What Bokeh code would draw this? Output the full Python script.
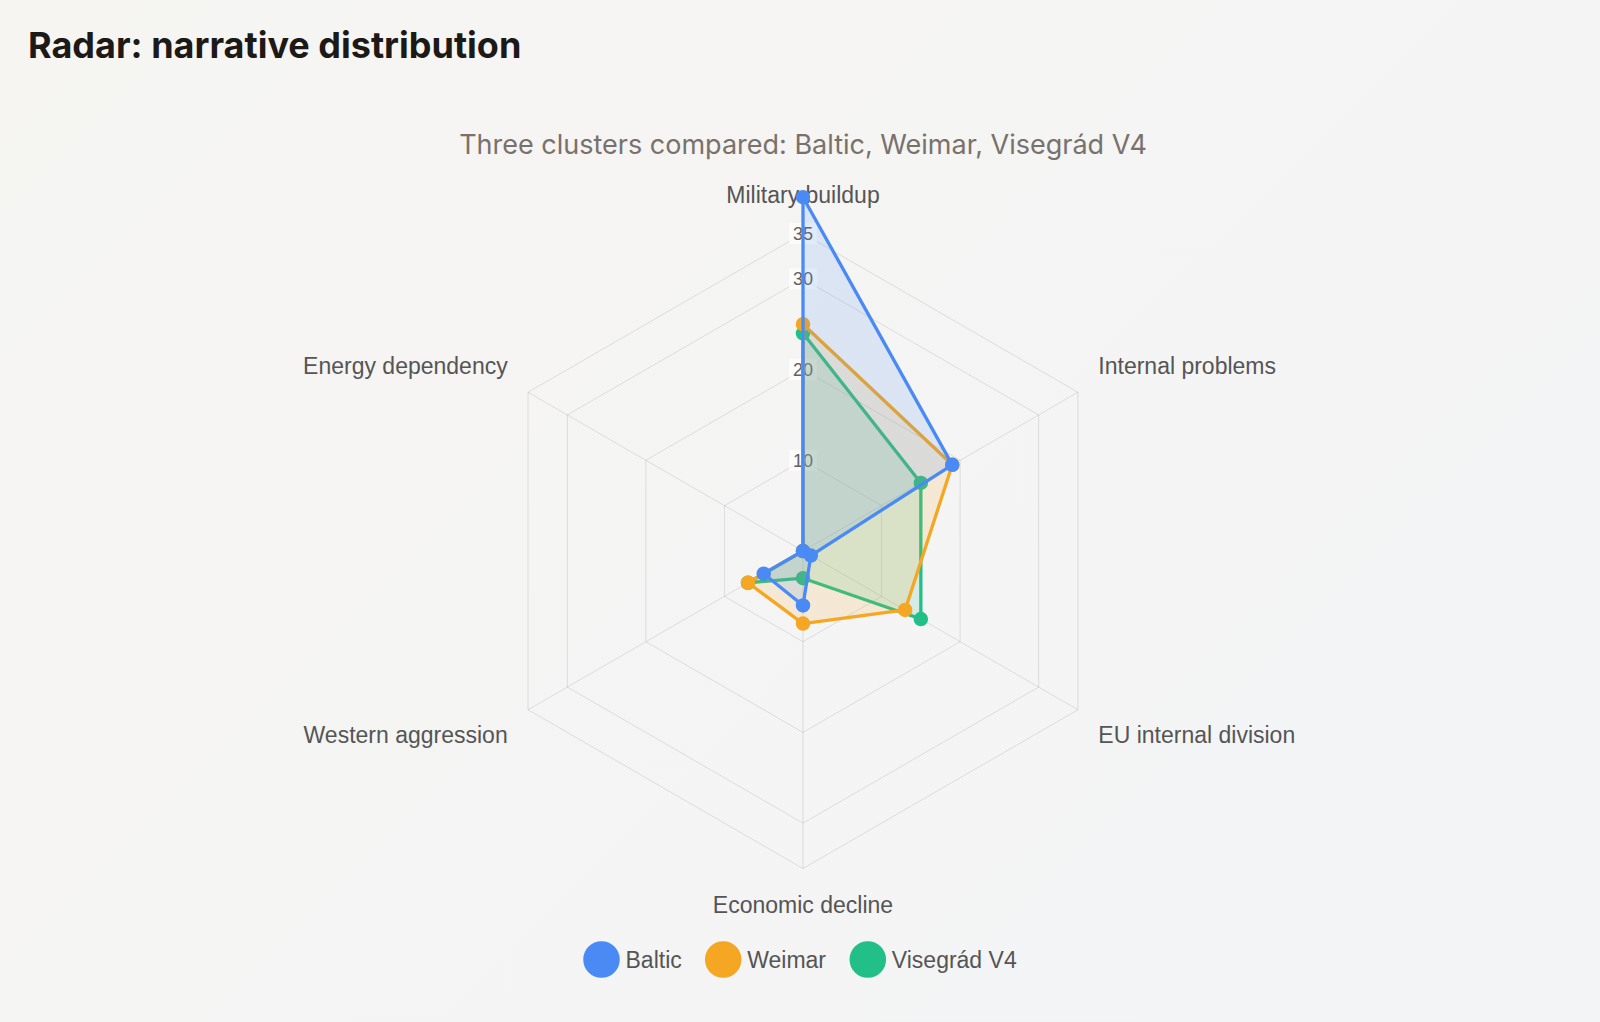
import math
from jinja2 import Template
from bokeh.plotting import figure
from bokeh.models import Range1d, Label
from bokeh.embed import file_html
from bokeh.resources import INLINE

# ---------------- data ----------------
categories = ["Military buildup", "Internal problems", "EU internal division",
              "Economic decline", "Western aggression", "Energy dependency"]
series_names = ["Baltic", "Weimar", "Visegrád V4"]
baltic = [39, 19, 1, 6, 5, 0]
weimar = [25, 19, 13, 8, 7, 0]
visegrad = [24, 15, 15, 3, 7, 0]
tick_values = [10, 20, 30, 35]
scale_max = 35

title_text = "Radar: narrative distribution"
subtitle_text = "Three clusters compared: Baltic, Weimar, Visegrád V4"

# ---------------- style / layout ----------------
colors = ["#4a8af4", "#f5a623", "#22bf88"]
W, H = 1584, 1004
CX, CY = 802.5, 550.5          # canvas pixel of radar centre
R_PX = 317.5                   # radius of the outer ring in px
S = R_PX / scale_max           # px per unit
LABEL_PX = 341.0               # distance of category labels
UPPER_LIFT_PX = 2.0            # extra lift for labels above the centre

p = figure(width=W, height=H, output_backend="svg", toolbar_location=None,
           x_range=Range1d(-CX / S, (W - CX) / S),
           y_range=Range1d(-(H - CY) / S, CY / S),
           x_axis_type=None, y_axis_type=None, min_border=0)
p.grid.visible = False
p.outline_line_color = None
p.background_fill_color = None
p.border_fill_color = None

n = len(categories)
angles = [math.pi / 2 - 2 * math.pi * i / n for i in range(n)]

# grid rings
ring_xs, ring_ys = [], []
for t in tick_values:
    ring_xs.append([t * math.cos(a) for a in angles] + [t * math.cos(angles[0])])
    ring_ys.append([t * math.sin(a) for a in angles] + [t * math.sin(angles[0])])
r1 = p.multi_line(ring_xs, ring_ys, line_color="black", line_alpha=0.1, line_width=1)
r1.level = "image"
# spokes
spoke_xs = [[0, scale_max * math.cos(a)] for a in angles]
spoke_ys = [[0, scale_max * math.sin(a)] for a in angles]
r2 = p.multi_line(spoke_xs, spoke_ys, line_color="black", line_alpha=0.1, line_width=1)
r2.level = "image"

# tick labels
for t in tick_values:
    lab = Label(x=0, y=t, text=str(t), text_align="center", text_baseline="middle",
                text_font="Liberation Sans", text_font_size="18px", text_color="#606060",
                background_fill_color="white", background_fill_alpha=0.65, padding=4)
    lab.level = "underlay"
    p.add_layout(lab)

# category labels
d = LABEL_PX / S
for name, a in zip(categories, angles):
    c, s = math.cos(a), math.sin(a)
    align = "center" if abs(c) < 0.01 else ("left" if c > 0 else "right")
    base = "bottom" if s > 0 else "top"
    lift = UPPER_LIFT_PX / S if s > 0 else 0.0
    lab = Label(x=d * c, y=d * s + lift, text=name, text_align=align, text_baseline=base,
                text_font="Liberation Sans", text_font_size="23px", text_color="#555555")
    lab.level = "underlay"
    p.add_layout(lab)

# datasets (first dataset drawn on top)
series = [baltic, weimar, visegrad]
for vals, col in reversed(list(zip(series, colors))):
    xs = [v * math.cos(a) for v, a in zip(vals, angles)]
    ys = [v * math.sin(a) for v, a in zip(vals, angles)]
    p.patch(xs, ys, fill_color=col, fill_alpha=0.15, line_color=None)
    p.line(xs + xs[:1], ys + ys[:1], line_color=col, line_width=3.3)
    p.scatter(xs, ys, size=12, fill_color=col, line_color=col, line_width=2.5)

# legend (manual, centred under the chart)
legend_y_px = 959
legend_marker_px = [601, 722.7, 867.3]
legend_text_gap = 24
for name, col, mx in zip(series_names, colors, legend_marker_px):
    p.scatter([(mx - CX) / S], [(CY - legend_y_px) / S], size=34,
              fill_color=col, line_color=col, line_width=2.5)
    p.add_layout(Label(x=(mx + legend_text_gap - CX) / S, y=(CY - legend_y_px) / S,
                       text=name, text_align="left", text_baseline="middle",
                       text_font="Liberation Sans", text_font_size="23px",
                       text_color="#555555"))

# title and subtitle
p.add_layout(Label(x=27.5, y=H - 44, x_units="screen", y_units="screen",
                   text=title_text, text_align="left", text_baseline="alphabetic",
                   text_font="Inter", text_font_style="bold", text_font_size="36px",
                   text_color="#1c1917"))
p.add_layout(Label(x=CX, y=H - 144, x_units="screen", y_units="screen",
                   text=subtitle_text, text_align="center", text_baseline="alphabetic",
                   text_font="Inter", text_font_size="27px", text_color="#78716c"))

template = Template("""{% extends base %}
{% block preamble %}<style>
html { min-height: 100%; background: linear-gradient(135deg, #f6f5f2 0%, #f3f4f6 100%); }
body { background: transparent; }
</style>{% endblock %}
""")

open("out.html", "w").write(file_html(p, INLINE, "Radar", template=template))
